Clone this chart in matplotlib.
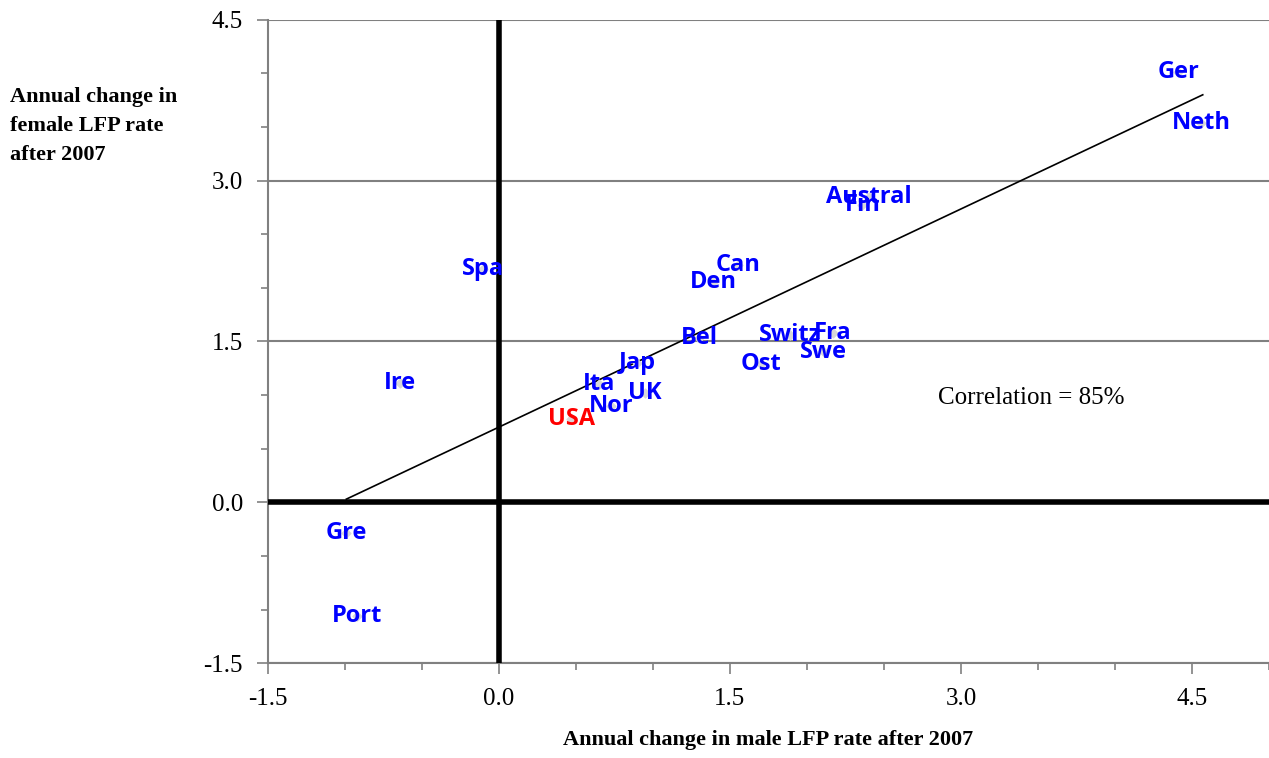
import numpy as np
import matplotlib.pyplot as plt
from matplotlib.ticker import MultipleLocator

# Data
countries = ["Ger", "Neth", "Austral", "Fin", "Spa", "Can", "Den", "Bel", "Switz",
             "Fra", "Swe", "Ost", "Jap", "Ita", "UK", "Nor", "USA", "Ire", "Gre", "Port"]
male_chg = [4.41, 4.56, 2.40, 2.36, -0.10, 1.55, 1.39, 1.30, 1.89,
            2.17, 2.11, 1.70, 0.90, 0.65, 0.95, 0.73, 0.47, -0.64, -0.99, -0.92]
female_chg = [4.01, 3.54, 2.85, 2.77, 2.18, 2.21, 2.05, 1.53, 1.56,
              1.58, 1.40, 1.29, 1.30, 1.10, 1.02, 0.90, 0.78, 1.11, -0.29, -1.06]
trend_x = [-0.99, 4.57]
trend_y = [0.03, 3.80]

serif = "Liberation Serif"

fig = plt.figure(figsize=(12.69, 7.58), dpi=100)
ax = fig.add_axes([0.211, 0.125, 0.789, 0.849])

ax.set_xlim(-1.5, 5.0)
ax.set_ylim(-1.5, 4.5)
ax.xaxis.set_minor_locator(MultipleLocator(0.5))
ax.yaxis.set_minor_locator(MultipleLocator(0.5))
ax.set_xticks([-1.5, 0, 1.5, 3.0, 4.5])
ax.set_xticklabels(["-1.5", "0.0", "1.5", "3.0", "4.5"])
ax.set_yticks([-1.5, 0, 1.5, 3.0, 4.5])
ax.set_yticklabels(["-1.5", "0.0", "1.5", "3.0", "4.5"])
ax.yaxis.grid(True, which="major", color="#808080", lw=1.5)
ax.set_axisbelow(True)
for s in ["top", "right"]:
    ax.spines[s].set_visible(False)
for s in ["left", "bottom"]:
    ax.spines[s].set_color("#808080")
    ax.spines[s].set_linewidth(1.5)
ax.tick_params(which="both", direction="out", color="#808080", width=1.2)
ax.tick_params(which="major", length=8, labelsize=18, pad=10)
ax.tick_params(which="minor", length=5)
for lab in ax.get_xticklabels() + ax.get_yticklabels():
    lab.set_fontfamily(serif)

ax.axhline(0, color="black", lw=4, zorder=3)
ax.axvline(0, color="black", lw=4, zorder=3)
ax.plot(trend_x, trend_y, color="black", lw=1.2, zorder=4)

ax.scatter(male_chg, female_chg, marker="D", s=20, color="#d8d8d8", zorder=4)
for c, x, y in zip(countries, male_chg, female_chg):
    ax.text(x, y, c, ha="center", va="center", fontsize=17, fontweight="bold",
            family="Open Sans", color="red" if c == "USA" else "blue", zorder=5)

ax.text(2.85, 0.97, "Correlation = 85%", fontsize=18, family=serif, va="center")

ax.set_xlabel("Annual change in male LFP rate after 2007", fontsize=16,
              fontweight="bold", family=serif, labelpad=14)
fig.text(0.008, 0.885, "Annual change in\nfemale LFP rate\nafter 2007", fontsize=16,
         fontweight="bold", family=serif, va="top", linespacing=1.6)

fig.savefig("out.png", dpi=100)
